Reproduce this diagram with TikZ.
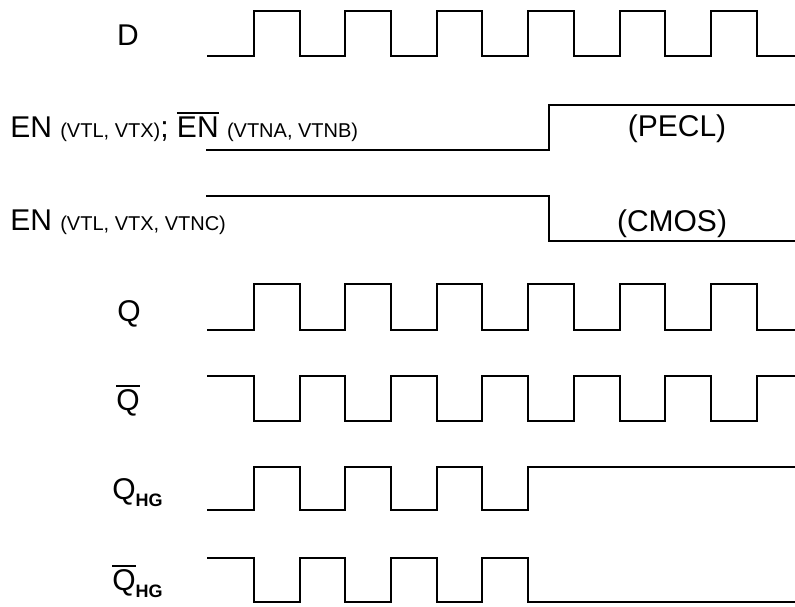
\documentclass[tikz,border=0pt]{standalone}
\usepackage{fontspec}
\setmainfont{Liberation Sans}
\usetikzlibrary{positioning}

\newcommand{\barsig}[1]{\leavevmode\vbox{\hrule height 1.8pt\kern 2.2pt\hbox{#1}}}
\newcommand{\note}[1]{{\fontsize{20}{22}\selectfont #1}}
\newcommand{\hgsub}{\raisebox{-7pt}{\bfseries\fontsize{18}{20}\selectfont HG}}

\begin{document}
\begin{tikzpicture}[x=1pt, y=-1pt, line width=2.6pt,
	lbl/.style={font=\fontsize{30}{32}\selectfont, inner sep=0pt, anchor=base}]
	\useasboundingbox (0,0) rectangle (795,606);
	\node[lbl] (d) at (128,45) {D};
	\node[lbl, anchor=base west] (en1) at (9,137) {EN \note{(VTL, VTX)}; \barsig{EN} \note{(VTNA, VTNB)}};
	\node[lbl] (pecl) at (677,136) {(PECL)};
	\node[lbl, anchor=base west] (en2) at (9,230) {EN \note{(VTL, VTX, VTNC)}};
	\node[lbl] (cmos) at (672,231) {(CMOS)};
	\node[lbl] (q) at (129,321) {Q};
	\node[lbl] (qb) at (128,410) {\barsig{Q}};
	\node[lbl, anchor=base west] (qhg) at (111,499) {Q\hgsub};
	\node[lbl, anchor=base west] (qhgb) at (111,590) {\barsig{Q}\hgsub};
	% D
	\draw (207,56) -| (254,11) -| (300,56) -| (345,11) -| (391,56) -| (437,11) -| (482,56)
		-| (528,11) -| (574,56) -| (620,11) -| (665,56) -| (711,11) -| (757,56) -- (795,56);
	% EN
	\draw (206,150) -| (549,105) -- (795,105);
	\draw (206,196) -| (549,241) -- (795,241);
	% Q and not Q
	\draw (207,330) -| (254,284) -| (300,330) -| (345,284) -| (391,330) -| (437,284) -| (482,330)
		-| (528,284) -| (574,330) -| (620,284) -| (665,330) -| (711,284) -| (757,330) -- (795,330);
	\draw (207,376) -| (254,421) -| (300,376) -| (345,421) -| (391,376) -| (437,421) -| (482,376)
		-| (528,421) -| (574,376) -| (620,421) -| (665,376) -| (711,421) -| (757,376) -- (795,376);
	% hold
	\draw (207,510) -| (254,467) -| (300,510) -| (345,467) -| (391,510) -| (437,467) -| (482,510)
		-| (528,467) -- (795,467);
	\draw (207,558) -| (254,602) -| (300,558) -| (345,602) -| (391,558) -| (437,602) -| (482,558)
		-| (528,602) -- (795,602);
\end{tikzpicture}
\end{document}
